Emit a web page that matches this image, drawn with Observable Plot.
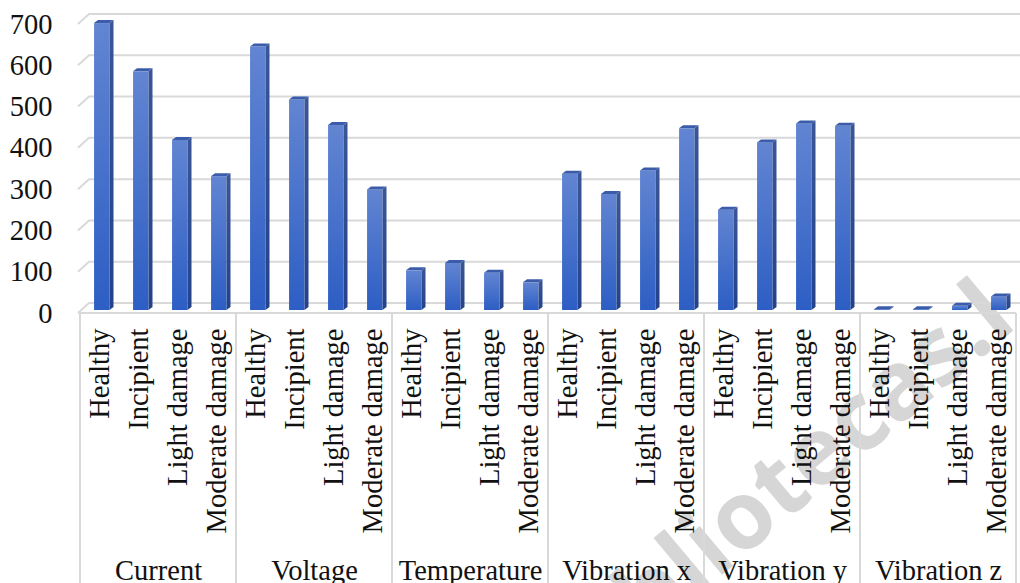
<!DOCTYPE html>
<html>
<head>
<meta charset="utf-8">
<script src="https://cdn.jsdelivr.net/npm/d3@7"></script>
<script src="https://cdn.jsdelivr.net/npm/@observablehq/plot@0.6"></script>
<style>
  html, body { margin: 0; padding: 0; background: #fff; }
  #chart { width: 1020px; height: 583px; overflow: hidden; position: relative; }
</style>
</head>
<body>
<div id="chart"></div>
<script>
// Signals measured and the motor condition classes
const signals = ["Current", "Voltage", "Temperature", "Vibration x", "Vibration y", "Vibration z"];
const conditions = ["Healthy", "Incipient", "Light damage", "Moderate damage"];

// One value per condition, in the order of `conditions`
const currentValues     = [695, 578, 412, 324];
const voltageValues     = [638, 510, 448, 292];
const temperatureValues = [96, 114, 90, 67];
const vibrationXValues  = [330, 281, 338, 440];
const vibrationYValues  = [243, 406, 452, 446];
const vibrationZValues  = [2, 2, 10, 33];

const yTicks = [0, 100, 200, 300, 400, 500, 600, 700];

const seriesBySignal = [currentValues, voltageValues, temperatureValues,
                        vibrationXValues, vibrationYValues, vibrationZValues];

const rows = signals.flatMap((signal, i) =>
  conditions.map((condition, j) => ({
    signal, condition,
    key: `${signal}|${condition}`,
    value: seriesBySignal[i][j]
  })));
const keys = rows.map(d => d.key);

// Layout
const W = 1020, H = 583;
const marginLeft = 78, marginRight = 3, marginTop = 24, marginBottom = 270;
const band = (W - marginLeft - marginRight) / keys.length;

// Pseudo-3D geometry (pixels)
const faceLeft = -5.5, faceRight = 10;   // front face edges relative to band centre
const sideDepth = 4, sideRise = 3;       // bar depth projection
const barLift = 3;                       // bars stand slightly behind the floor edge
const wallDx = 11, wallDy = 10;          // back wall offset
const lineColor = "#d9d9d9";

const bw = x => (typeof x.bandwidth === "function" ? x.bandwidth() : band);

// Back wall: gradient definitions, gridlines with their slanted floor joints, floor edge, dividers
function wall(index, {x, y}, values, dims) {
  const g = d3.create("svg:g");
  const defs = g.append("defs");
  const face = defs.append("linearGradient").attr("id", "bar-face")
    .attr("x1", 0).attr("y1", 0).attr("x2", 0).attr("y2", 1);
  face.append("stop").attr("offset", "0%").attr("stop-color", "#6285d2");
  face.append("stop").attr("offset", "100%").attr("stop-color", "#2d5ec4");
  const side = defs.append("linearGradient").attr("id", "bar-side")
    .attr("x1", 0).attr("y1", 0).attr("x2", 0).attr("y2", 1);
  side.append("stop").attr("offset", "0%").attr("stop-color", "#3a5697");
  side.append("stop").attr("offset", "100%").attr("stop-color", "#23428a");

  // faint diagonal watermark
  g.append("text")
    .attr("transform", "translate(580,694) rotate(-40)")
    .attr("text-anchor", "start")
    .style("font-family", "'Open Sans', sans-serif")
    .style("font-weight", "700")
    .style("font-size", "95px")
    .attr("fill", "#d2d2d2")
    .attr("fill-opacity", 0.9)
    .text("bibliotecas.l");

  const x0 = dims.marginLeft, xEnd = dims.width;
  for (const t of yTicks) {
    const yf = y(t);
    g.append("path")
      .attr("d", `M${x0},${yf}L${x0 + wallDx},${yf - wallDy}L${xEnd},${yf - wallDy}`)
      .attr("fill", "none").attr("stroke", lineColor).attr("stroke-width", 2);
  }
  const w = bw(x);
  const xLast = x(keys[keys.length - 1]) + w;
  g.append("path")
    .attr("d", `M${x0},${y(0)}L${xLast},${y(0)}`)
    .attr("stroke", lineColor).attr("stroke-width", 2);
  const edges = signals.map(s => x(`${s}|${conditions[0]}`)).concat([xLast]);
  for (const xe of edges) {
    g.append("path")
      .attr("d", `M${xe},${y(0)}L${xe},${dims.height}`)
      .attr("stroke", lineColor).attr("stroke-width", 2);
  }
  return g.node();
}

// Side and top faces of each bar
function barDepth(index, {x, y}) {
  const g = d3.create("svg:g");
  const w = bw(x);
  for (const d of rows) {
    const c = x(d.key) + w / 2;
    const L = c + faceLeft, R = c + faceRight;
    const T = y(d.value) - barLift, B = y(0) - barLift;
    g.append("path")
      .attr("d", `M${R},${T}L${R + sideDepth},${T - sideRise}L${R + sideDepth},${B - sideRise}L${R},${B}Z`)
      .attr("fill", "url(#bar-side)");
    g.append("path")
      .attr("d", `M${L},${T}L${L + sideDepth},${T - sideRise}L${R + sideDepth},${T - sideRise}L${R},${T}Z`)
      .attr("fill", "#3a5cab");
  }
  return g.node();
}

const chart = Plot.plot({
  width: W,
  height: H,
  marginLeft, marginRight, marginTop, marginBottom,
  style: {
    fontFamily: "'Liberation Serif', 'Times New Roman', serif",
    fontSize: "28.5px",
    color: "#111",
    background: "#fff"
  },
  x: { type: "band", domain: keys, padding: 0, label: null },
  y: { domain: [0, 700], label: null },
  marks: [
    wall,
    Plot.barY(rows, {
      x: "key", y: "value",
      insetLeft: band / 2 + faceLeft,
      insetRight: band / 2 - faceRight,
      dy: -barLift,
      fill: "url(#bar-face)"
    }),
    barDepth,
    Plot.axisY(yTicks, { tickSize: 0, tickPadding: 26, label: null }),
    Plot.axisX({
      tickRotate: -90, tickSize: 0, tickPadding: 15, label: null,
      tickFormat: k => k.split("|")[1]
    }),
    Plot.text(signals, {
      x: s => `${s}|${conditions[1]}`,
      text: s => s,
      frameAnchor: "bottom",
      lineAnchor: "bottom",
      dx: band / 2,
      dy: 266
    })
  ]
});

document.getElementById("chart").appendChild(chart);
</script>
</body>
</html>
